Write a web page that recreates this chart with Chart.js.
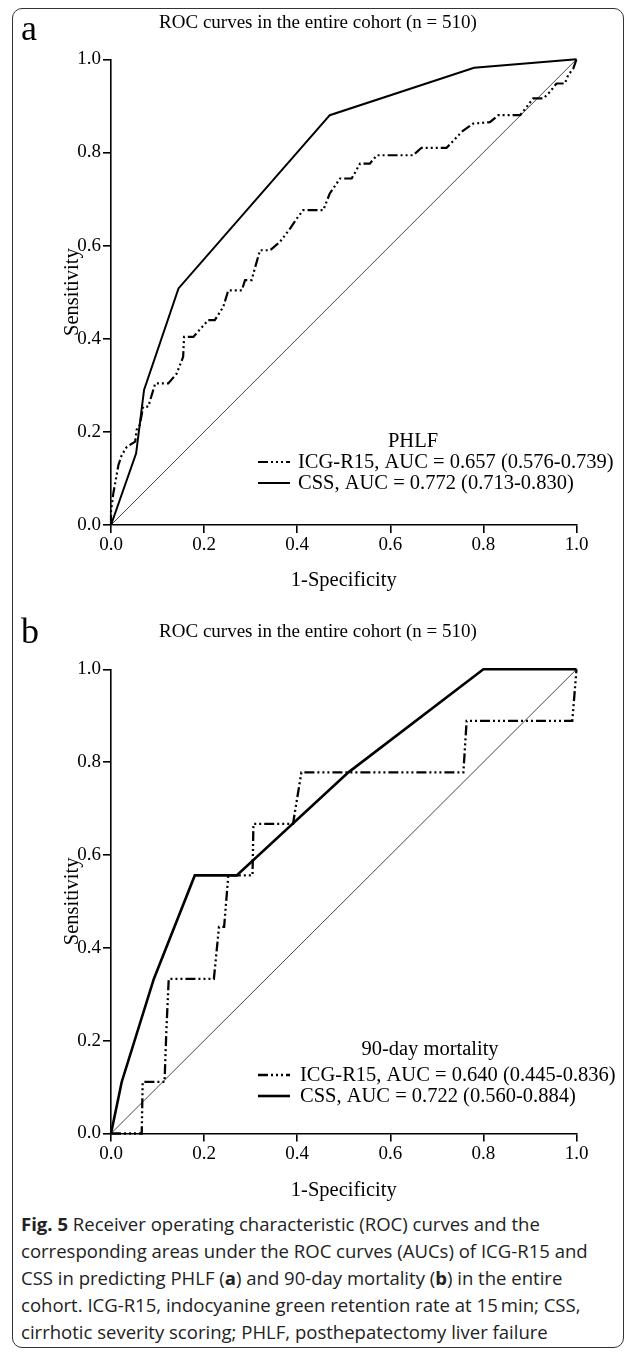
<!DOCTYPE html>
<html><head><meta charset="utf-8">
<script src="https://cdn.jsdelivr.net/npm/chart.js@4.4.0/dist/chart.umd.min.js"></script>
<style>
html,body{margin:0;padding:0;background:#fff;}
#page{position:relative;width:636px;height:1356px;overflow:hidden;background:#fff;}
#frame{position:absolute;left:12px;top:8px;width:612px;height:1340px;border:1.5px solid #333;border-radius:10px;box-sizing:border-box;}
.cv{position:absolute;left:0;}
#caption{position:absolute;left:21px;top:1210px;font-family:"Open Sans","Noto Sans",sans-serif;font-size:16.5px;line-height:27px;color:#222;white-space:nowrap;}
#caption b{font-weight:700;}
</style></head>
<body><div id="page">
<div id="frame"></div>
<canvas id="ca" class="cv" width="636" height="600" style="top:0px"></canvas>
<canvas id="cb" class="cv" width="636" height="600" style="top:610px"></canvas>
<div id="caption"><span id="l1"><b>Fig. 5</b> Receiver operating characteristic (ROC) curves and the</span><br><span id="l2">corresponding areas under the ROC curves (AUCs) of ICG-R15 and</span><br><span>CSS in predicting PHLF (<b>a</b>) and 90-day mortality (<b>b</b>) in the entire</span><br><span>cohort. ICG-R15, indocyanine green retention rate at 15&#8201;min; CSS,</span><br><span>cirrhotic severity scoring; PHLF, posthepatectomy liver failure</span></div>
</div>
<script>
// ---------- data ----------
const tickValues = [0, 0.2, 0.4, 0.6, 0.8, 1.0];
const tickLabels = ['0.0', '0.2', '0.4', '0.6', '0.8', '1.0'];
const chartTitle = 'ROC curves in the entire cohort (n = 510)';
const xAxisTitle = '1-Specificity';
const yAxisTitle = 'Sensitivity';
const refX = [0, 1];
const refY = [0, 1];

// Panel a: PHLF
const headerA = 'PHLF';
const labelsA = ['ICG-R15, AUC = 0.657 (0.576-0.739)', 'CSS, AUC = 0.772 (0.713-0.830)'];
const fprA_ICG = [0, 0, 0.005, 0.016, 0.023, 0.034, 0.052, 0.055, 0.062, 0.069, 0.080, 0.095, 0.123, 0.141, 0.155, 0.157, 0.177, 0.209, 0.223, 0.241, 0.252, 0.281, 0.288, 0.302, 0.320, 0.342, 0.363, 0.385, 0.399, 0.413, 0.456, 0.470, 0.492, 0.517, 0.535, 0.556, 0.571, 0.649, 0.667, 0.721, 0.743, 0.753, 0.778, 0.814, 0.832, 0.879, 0.893, 0.907, 0.929, 0.943, 0.957, 0.975, 0.982, 0.993, 1];
const tprA_ICG = [0, 0.030, 0.068, 0.129, 0.150, 0.168, 0.179, 0.204, 0.215, 0.254, 0.254, 0.304, 0.304, 0.325, 0.361, 0.404, 0.404, 0.440, 0.440, 0.468, 0.504, 0.504, 0.526, 0.526, 0.590, 0.590, 0.608, 0.637, 0.658, 0.676, 0.676, 0.712, 0.744, 0.744, 0.776, 0.776, 0.794, 0.794, 0.810, 0.810, 0.833, 0.844, 0.862, 0.865, 0.880, 0.880, 0.898, 0.916, 0.916, 0.930, 0.948, 0.948, 0.966, 0.980, 1];
const fprA_CSS = [0, 0.054, 0.071, 0.145, 0.470, 0.780, 1];
const tprA_CSS = [0, 0.154, 0.290, 0.508, 0.880, 0.982, 1];

// Panel b: 90-day mortality
const headerB = '90-day mortality';
const labelsB = ['ICG-R15, AUC = 0.640 (0.445-0.836)', 'CSS, AUC = 0.722 (0.560-0.884)'];
const fprB_ICG = [0, 0.066, 0.068, 0.115, 0.119, 0.124, 0.221, 0.232, 0.243, 0.252, 0.304, 0.306, 0.391, 0.409, 0.757, 0.764, 0.991, 1];
const tprB_ICG = [0, 0, 0.111, 0.111, 0.223, 0.333, 0.333, 0.445, 0.445, 0.556, 0.556, 0.667, 0.667, 0.778, 0.778, 0.889, 0.889, 1];
const fprB_CSS = [0, 0.023, 0.092, 0.180, 0.270, 0.510, 0.800, 1];
const tprB_CSS = [0, 0.111, 0.333, 0.556, 0.556, 0.778, 1, 1];

// ---------- drawing ----------
const SERIF = '"Liberation Serif", "Times New Roman", serif';
const FS = 19;
const AFS = 20.5;
const LFS = 20.5;
const DASH = [10, 3, 2, 3, 2, 3, 2, 3];
const pts = (xs, ys) => xs.map((x, i) => ({x: x, y: ys[i]}));

const annot = {
  id: 'annot',
  afterDraw(chart, args, o) {
    const ctx = chart.ctx;
    ctx.save();
    ctx.fillStyle = '#000';
    ctx.textAlign = 'left';
    ctx.textBaseline = 'alphabetic';
    ctx.font = '36px ' + SERIF;
    ctx.fillText(o.letter, o.letterX, o.letterY);
    ctx.textBaseline = 'middle';
    ctx.textAlign = 'center';
    ctx.font = FS + 'px ' + SERIF;
    ctx.fillText(chartTitle, o.titleX, o.titleY);
    ctx.font = LFS + 'px ' + SERIF;
    ctx.fillText(o.header, o.headerX, o.headerY);
    o.items.forEach(it => {
      const ds = chart.data.datasets[it.ds];
      ctx.strokeStyle = ds.borderColor;
      ctx.lineWidth = ds.borderWidth;
      ctx.setLineDash(ds.borderDash || []);
      ctx.beginPath();
      ctx.moveTo(o.sx0, it.y);
      ctx.lineTo(o.sx1, it.y);
      ctx.stroke();
      ctx.setLineDash([]);
      ctx.textAlign = 'left';
      ctx.fillText(ds.label, o.tx, it.y + 1);
    });
    ctx.restore();
  }
};

function makeChart(id, o) {
  const font = {family: SERIF, size: FS, weight: 'normal'};
  const afont = {family: SERIF, size: AFS, weight: 'normal'};
  return new Chart(document.getElementById(id), {
    type: 'line',
    data: {datasets: [
      {label: 'Reference', data: pts(refX, refY), borderColor: '#333', borderWidth: 0.9, pointRadius: 0, order: 3, clip: 6},
      {label: o.labels[0], data: pts(o.icgX, o.icgY), borderColor: '#000', borderWidth: o.icgW, borderDash: DASH, pointRadius: 0, order: 2, clip: 6},
      {label: o.labels[1], data: pts(o.cssX, o.cssY), borderColor: '#000', borderWidth: o.cssW, pointRadius: 0, order: 1, clip: 6}
    ]},
    options: {
      responsive: false, animation: false, devicePixelRatio: 1,
      layout: {padding: {left: 0, right: 59.5, top: o.areaTop, bottom: 0}},
      elements: {line: {tension: 0, borderCapStyle: 'butt', borderJoinStyle: 'miter'}},
      plugins: {
        legend: {display: false}, tooltip: {enabled: false}, title: {display: false},
        annot: o.annot
      },
      scales: {
        x: {
          type: 'linear', min: 0, max: 1,
          afterBuildTicks(s) { s.ticks = tickValues.map(v => ({value: v})); },
          afterFit(s) { s.height = 600 - o.areaBottom; },
          border: {display: true, color: '#000', width: 1.6},
          grid: {drawOnChartArea: false, drawTicks: true, tickLength: 8, color: '#000', lineWidth: 1.6},
          ticks: {font: font, color: '#000', padding: 1, maxRotation: 0, autoSkip: false, callback: (v, i) => tickLabels[i]},
          title: {display: true, text: xAxisTitle, font: afont, color: '#000', padding: {top: 0, bottom: 7.5}}
        },
        y: {
          type: 'linear', min: 0, max: 1,
          afterBuildTicks(s) { s.ticks = tickValues.map(v => ({value: v})); },
          afterFit(s) { s.width = 111; },
          border: {display: true, color: '#000', width: 1.6},
          grid: {drawOnChartArea: false, drawTicks: true, tickLength: 8, color: '#000', lineWidth: 1.6},
          ticks: {font: font, color: '#000', padding: 2, autoSkip: false, callback: (v, i) => tickLabels[i]},
          title: {display: true, text: yAxisTitle, font: afont, color: '#000', padding: {top: 60, bottom: 0}}
        }
      }
    },
    plugins: [annot]
  });
}

makeChart('ca', {
  labels: labelsA, icgX: fprA_ICG, icgY: tprA_ICG, cssX: fprA_CSS, cssY: tprA_CSS,
  icgW: 2.2, cssW: 2.0, areaTop: 59.3, areaBottom: 525,
  annot: {letter: 'a', letterX: 21, letterY: 40, titleX: 318, titleY: 23.5,
          header: headerA, headerX: 413, headerY: 442,
          sx0: 258, sx1: 290, tx: 298, items: [{ds: 1, y: 462}, {ds: 2, y: 483}]}
});
makeChart('cb', {
  labels: labelsB, icgX: fprB_ICG, icgY: tprB_ICG, cssX: fprB_CSS, cssY: tprB_CSS,
  icgW: 2.3, cssW: 2.6, areaTop: 59.3, areaBottom: 523.5,
  annot: {letter: 'b', letterX: 21, letterY: 33, titleX: 318, titleY: 22,
          header: headerB, headerX: 430, headerY: 440,
          sx0: 258, sx1: 290, tx: 300, items: [{ds: 1, y: 465}, {ds: 2, y: 486}]}
});

// fit caption width to the reference line length
(function () {
  const cap = document.getElementById('caption');
  const l2 = document.getElementById('l2');
  const w = l2.getBoundingClientRect().width;
  const target = 567;
  const fs = 16.5 * target / w;
  cap.style.fontSize = fs.toFixed(2) + 'px';
})();
</script>
</body></html>
